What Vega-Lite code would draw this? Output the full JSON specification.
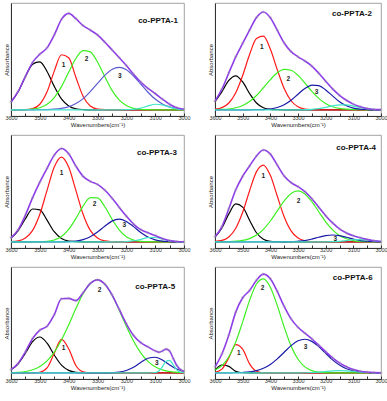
{
"$schema": "https://vega.github.io/schema/vega-lite/v6.json",
"padding": {"left": 2, "top": 2, "right": 2, "bottom": 2},
"datasets": {"d": [
{"p":1,"w":3600,"k":0.068,"r":0,"g":0,"b1":0,"c":0,"s":0.068},
{"p":1,"w":3575,"k":0.162,"r":0,"g":0,"b1":0,"c":0,"s":0.162},
{"p":1,"w":3550,"k":0.293,"r":0.001,"g":0.002,"b1":0,"c":0,"s":0.296},
{"p":1,"w":3525,"k":0.404,"r":0.010,"g":0.006,"b1":0,"c":0,"s":0.420},
{"p":1,"w":3500,"k":0.424,"r":0.049,"g":0.018,"b1":0.001,"c":0,"s":0.492},
{"p":1,"w":3475,"k":0.339,"r":0.159,"g":0.048,"b1":0.002,"c":0,"s":0.548},
{"p":1,"w":3450,"k":0.207,"r":0.342,"g":0.108,"b1":0.005,"c":0,"s":0.662},
{"p":1,"w":3425,"k":0.096,"r":0.487,"g":0.205,"b1":0.012,"c":0,"s":0.800},
{"p":1,"w":3400,"k":0.034,"r":0.460,"g":0.332,"b1":0.027,"c":0,"s":0.853},
{"p":1,"w":3375,"k":0.009,"r":0.288,"g":0.454,"b1":0.055,"c":0,"s":0.806},
{"p":1,"w":3350,"k":0.002,"r":0.120,"g":0.524,"b1":0.099,"c":0,"s":0.745},
{"p":1,"w":3325,"k":0,"r":0.033,"g":0.512,"b1":0.161,"c":0,"s":0.706},
{"p":1,"w":3300,"k":0,"r":0.006,"g":0.423,"b1":0.233,"c":0,"s":0.662},
{"p":1,"w":3275,"k":0,"r":0.001,"g":0.295,"b1":0.304,"c":0,"s":0.600},
{"p":1,"w":3250,"k":0,"r":0,"g":0.174,"b1":0.357,"c":0,"s":0.531},
{"p":1,"w":3225,"k":0,"r":0,"g":0.087,"b1":0.375,"c":0,"s":0.462},
{"p":1,"w":3200,"k":0,"r":0,"g":0.037,"b1":0.354,"c":0.001,"s":0.392},
{"p":1,"w":3175,"k":0,"r":0,"g":0.013,"b1":0.299,"c":0.003,"s":0.315},
{"p":1,"w":3150,"k":0,"r":0,"g":0.004,"b1":0.228,"c":0.014,"s":0.246},
{"p":1,"w":3125,"k":0,"r":0,"g":0.001,"b1":0.155,"c":0.034,"s":0.190},
{"p":1,"w":3100,"k":0,"r":0,"g":0,"b1":0.095,"c":0.049,"s":0.144},
{"p":1,"w":3075,"k":0,"r":0,"g":0,"b1":0.052,"c":0.043,"s":0.095},
{"p":1,"w":3050,"k":0,"r":0,"g":0,"b1":0.026,"c":0.023,"s":0.049},
{"p":1,"w":3025,"k":0,"r":0,"g":0,"b1":0.011,"c":0.007,"s":0.018},
{"p":1,"w":3000,"k":0,"r":0,"g":0,"b1":0.004,"c":0.001,"s":0.005},
{"p":2,"w":3600,"k":0.071,"r":0.005,"g":0.001,"b":0,"c":0,"s":0.077},
{"p":2,"w":3575,"k":0.161,"r":0.019,"g":0.003,"b":0,"c":0,"s":0.183},
{"p":2,"w":3550,"k":0.260,"r":0.060,"g":0.007,"b":0,"c":0,"s":0.327},
{"p":2,"w":3525,"k":0.300,"r":0.151,"g":0.018,"b":0,"c":0,"s":0.469},
{"p":2,"w":3500,"k":0.246,"r":0.304,"g":0.038,"b":0,"c":0,"s":0.588},
{"p":2,"w":3475,"k":0.144,"r":0.489,"g":0.073,"b":0,"c":0,"s":0.706},
{"p":2,"w":3450,"k":0.060,"r":0.630,"g":0.126,"b":0.001,"c":0,"s":0.817},
{"p":2,"w":3425,"k":0.018,"r":0.651,"g":0.195,"b":0.002,"c":0,"s":0.866},
{"p":2,"w":3400,"k":0.004,"r":0.537,"g":0.267,"b":0.007,"c":0,"s":0.815},
{"p":2,"w":3375,"k":0.001,"r":0.355,"g":0.328,"b":0.020,"c":0,"s":0.704},
{"p":2,"w":3350,"k":0,"r":0.188,"g":0.358,"b":0.045,"c":0,"s":0.591},
{"p":2,"w":3325,"k":0,"r":0.080,"g":0.350,"b":0.085,"c":0,"s":0.515},
{"p":2,"w":3300,"k":0,"r":0.027,"g":0.304,"b":0.138,"c":0,"s":0.469},
{"p":2,"w":3275,"k":0,"r":0.007,"g":0.236,"b":0.188,"c":0.001,"s":0.432},
{"p":2,"w":3250,"k":0,"r":0.002,"g":0.163,"b":0.218,"c":0.004,"s":0.387},
{"p":2,"w":3225,"k":0,"r":0,"g":0.101,"b":0.213,"c":0.010,"s":0.324},
{"p":2,"w":3200,"k":0,"r":0,"g":0.055,"b":0.176,"c":0.021,"s":0.252},
{"p":2,"w":3175,"k":0,"r":0,"g":0.027,"b":0.123,"c":0.035,"s":0.185},
{"p":2,"w":3150,"k":0,"r":0,"g":0.012,"b":0.072,"c":0.044,"s":0.128},
{"p":2,"w":3125,"k":0,"r":0,"g":0.005,"b":0.036,"c":0.043,"s":0.084},
{"p":2,"w":3100,"k":0,"r":0,"g":0.002,"b":0.015,"c":0.033,"s":0.050},
{"p":2,"w":3075,"k":0,"r":0,"g":0.001,"b":0.006,"c":0.020,"s":0.027},
{"p":2,"w":3050,"k":0,"r":0,"g":0,"b":0.002,"c":0.009,"s":0.011},
{"p":2,"w":3025,"k":0,"r":0,"g":0,"b":0,"c":0.003,"s":0.003},
{"p":2,"w":3000,"k":0,"r":0,"g":0,"b":0,"c":0.001,"s":0.001},
{"p":3,"w":3600,"k":0.033,"r":0.002,"g":0,"b":0,"c":0,"s":0.035},
{"p":3,"w":3575,"k":0.099,"r":0.008,"g":0,"b":0,"c":0,"s":0.107},
{"p":3,"w":3550,"k":0.204,"r":0.033,"g":0,"b":0,"c":0,"s":0.237},
{"p":3,"w":3525,"k":0.290,"r":0.101,"g":0,"b":0,"c":0,"s":0.391},
{"p":3,"w":3500,"k":0.283,"r":0.244,"g":0.001,"b":0,"c":0,"s":0.528},
{"p":3,"w":3475,"k":0.191,"r":0.455,"g":0.004,"b":0,"c":0,"s":0.650},
{"p":3,"w":3450,"k":0.089,"r":0.662,"g":0.016,"b":0,"c":0,"s":0.767},
{"p":3,"w":3425,"k":0.028,"r":0.750,"g":0.047,"b":0,"c":0,"s":0.825},
{"p":3,"w":3400,"k":0.006,"r":0.662,"g":0.109,"b":0.002,"c":0,"s":0.779},
{"p":3,"w":3375,"k":0.001,"r":0.455,"g":0.207,"b":0.007,"c":0,"s":0.670},
{"p":3,"w":3350,"k":0,"r":0.244,"g":0.316,"b":0.019,"c":0,"s":0.579},
{"p":3,"w":3325,"k":0,"r":0.101,"g":0.390,"b":0.044,"c":0,"s":0.535},
{"p":3,"w":3300,"k":0,"r":0.033,"g":0.389,"b":0.086,"c":0,"s":0.508},
{"p":3,"w":3275,"k":0,"r":0.008,"g":0.312,"b":0.138,"c":0,"s":0.458},
{"p":3,"w":3250,"k":0,"r":0.002,"g":0.202,"b":0.183,"c":0,"s":0.387},
{"p":3,"w":3225,"k":0,"r":0,"g":0.106,"b":0.200,"c":0,"s":0.306},
{"p":3,"w":3200,"k":0,"r":0,"g":0.045,"b":0.180,"c":0.002,"s":0.227},
{"p":3,"w":3175,"k":0,"r":0,"g":0.015,"b":0.134,"c":0.008,"s":0.157},
{"p":3,"w":3150,"k":0,"r":0,"g":0.004,"b":0.082,"c":0.022,"s":0.108},
{"p":3,"w":3125,"k":0,"r":0,"g":0.001,"b":0.042,"c":0.037,"s":0.080},
{"p":3,"w":3100,"k":0,"r":0,"g":0,"b":0.017,"c":0.038,"s":0.055},
{"p":3,"w":3075,"k":0,"r":0,"g":0,"b":0.006,"c":0.023,"s":0.029},
{"p":3,"w":3050,"k":0,"r":0,"g":0,"b":0.002,"c":0.008,"s":0.010},
{"p":3,"w":3025,"k":0,"r":0,"g":0,"b":0,"c":0.002,"s":0.002},
{"p":3,"w":3000,"k":0,"r":0,"g":0,"b":0,"c":0,"s":0},
{"p":4,"w":3600,"k":0.041,"r":0.003,"g":0,"b":0,"c":0,"s":0.044},
{"p":4,"w":3575,"k":0.123,"r":0.012,"g":0,"b":0,"c":0,"s":0.135},
{"p":4,"w":3550,"k":0.247,"r":0.043,"g":0.002,"b":0,"c":0,"s":0.292},
{"p":4,"w":3525,"k":0.335,"r":0.120,"g":0.005,"b":0,"c":0,"s":0.460},
{"p":4,"w":3500,"k":0.307,"r":0.261,"g":0.012,"b":0,"c":0,"s":0.580},
{"p":4,"w":3475,"k":0.191,"r":0.452,"g":0.028,"b":0,"c":0,"s":0.671},
{"p":4,"w":3450,"k":0.080,"r":0.621,"g":0.059,"b":0,"c":0,"s":0.760},
{"p":4,"w":3425,"k":0.023,"r":0.679,"g":0.110,"b":0,"c":0,"s":0.812},
{"p":4,"w":3400,"k":0.004,"r":0.588,"g":0.184,"b":0,"c":0,"s":0.776},
{"p":4,"w":3375,"k":0.001,"r":0.405,"g":0.273,"b":0,"c":0,"s":0.679},
{"p":4,"w":3350,"k":0,"r":0.221,"g":0.361,"b":0,"c":0,"s":0.582},
{"p":4,"w":3325,"k":0,"r":0.096,"g":0.427,"b":0.001,"c":0,"s":0.524},
{"p":4,"w":3300,"k":0,"r":0.033,"g":0.450,"b":0.005,"c":0,"s":0.488},
{"p":4,"w":3275,"k":0,"r":0.009,"g":0.423,"b":0.011,"c":0,"s":0.443},
{"p":4,"w":3250,"k":0,"r":0.002,"g":0.355,"b":0.024,"c":0,"s":0.381},
{"p":4,"w":3225,"k":0,"r":0,"g":0.266,"b":0.040,"c":0,"s":0.306},
{"p":4,"w":3200,"k":0,"r":0,"g":0.177,"b":0.054,"c":0,"s":0.231},
{"p":4,"w":3175,"k":0,"r":0,"g":0.106,"b":0.060,"c":0.001,"s":0.167},
{"p":4,"w":3150,"k":0,"r":0,"g":0.056,"b":0.054,"c":0.004,"s":0.114},
{"p":4,"w":3125,"k":0,"r":0,"g":0.027,"b":0.040,"c":0.011,"s":0.078},
{"p":4,"w":3100,"k":0,"r":0,"g":0.011,"b":0.024,"c":0.018,"s":0.053},
{"p":4,"w":3075,"k":0,"r":0,"g":0.004,"b":0.011,"c":0.020,"s":0.035},
{"p":4,"w":3050,"k":0,"r":0,"g":0.001,"b":0.005,"c":0.015,"s":0.021},
{"p":4,"w":3025,"k":0,"r":0,"g":0,"b":0.001,"c":0.008,"s":0.009},
{"p":4,"w":3000,"k":0,"r":0,"g":0,"b":0,"c":0.003,"s":0.003},
{"p":5,"w":3600,"k":0.027,"r":0,"g":0.002,"b":0,"c":0,"s":0.029},
{"p":5,"w":3575,"k":0.081,"r":0,"g":0.005,"b":0,"c":0,"s":0.086},
{"p":5,"w":3550,"k":0.176,"r":0,"g":0.012,"b":0,"c":0,"s":0.188},
{"p":5,"w":3525,"k":0.279,"r":0,"g":0.028,"b":0,"c":0,"s":0.307},
{"p":5,"w":3500,"k":0.320,"r":0.005,"g":0.057,"b":0,"c":0,"s":0.382},
{"p":5,"w":3475,"k":0.265,"r":0.044,"g":0.107,"b":0,"c":0,"s":0.416},
{"p":5,"w":3450,"k":0.159,"r":0.175,"g":0.185,"b":0,"c":0,"s":0.519},
{"p":5,"w":3425,"k":0.069,"r":0.298,"g":0.294,"b":0,"c":0,"s":0.661},
{"p":5,"w":3400,"k":0.022,"r":0.215,"g":0.428,"b":0,"c":0,"s":0.665},
{"p":5,"w":3375,"k":0.005,"r":0.066,"g":0.574,"b":0,"c":0,"s":0.645},
{"p":5,"w":3350,"k":0.001,"r":0.009,"g":0.706,"b":0,"c":0,"s":0.716},
{"p":5,"w":3325,"k":0,"r":0,"g":0.798,"b":0,"c":0,"s":0.798},
{"p":5,"w":3300,"k":0,"r":0,"g":0.830,"b":0,"c":0,"s":0.830},
{"p":5,"w":3275,"k":0,"r":0,"g":0.793,"b":0,"c":0,"s":0.793},
{"p":5,"w":3250,"k":0,"r":0,"g":0.696,"b":0.002,"c":0,"s":0.698},
{"p":5,"w":3225,"k":0,"r":0,"g":0.562,"b":0.006,"c":0,"s":0.568},
{"p":5,"w":3200,"k":0,"r":0,"g":0.417,"b":0.021,"c":0,"s":0.438},
{"p":5,"w":3175,"k":0,"r":0,"g":0.284,"b":0.050,"c":0,"s":0.334},
{"p":5,"w":3150,"k":0,"r":0,"g":0.178,"b":0.092,"c":0,"s":0.270},
{"p":5,"w":3125,"k":0,"r":0,"g":0.102,"b":0.130,"c":0,"s":0.232},
{"p":5,"w":3100,"k":0,"r":0,"g":0.054,"b":0.139,"c":0.003,"s":0.196},
{"p":5,"w":3087,"k":0,"r":0,"g":0.037,"b":0.130,"c":0.017,"s":0.184},
{"p":5,"w":3075,"k":0,"r":0,"g":0.027,"b":0.114,"c":0.054,"s":0.195},
{"p":5,"w":3062,"k":0,"r":0,"g":0.017,"b":0.092,"c":0.103,"s":0.212},
{"p":5,"w":3050,"k":0,"r":0,"g":0.012,"b":0.071,"c":0.112,"s":0.195},
{"p":5,"w":3037,"k":0,"r":0,"g":0.007,"b":0.050,"c":0.070,"s":0.127},
{"p":5,"w":3025,"k":0,"r":0,"g":0.005,"b":0.034,"c":0.027,"s":0.066},
{"p":5,"w":3012,"k":0,"r":0,"g":0.003,"b":0.021,"c":0.005,"s":0.029},
{"p":5,"w":3000,"k":0,"r":0,"g":0.002,"b":0.012,"c":0.001,"s":0.015},
{"p":6,"w":3600,"k":0.023,"r":0.004,"g":0.025,"b":0,"c":0,"s":0.052},
{"p":6,"w":3575,"k":0.070,"r":0.033,"g":0.065,"b":0,"c":0,"s":0.168},
{"p":6,"w":3550,"k":0.058,"r":0.135,"g":0.144,"b":0,"c":0,"s":0.337},
{"p":6,"w":3525,"k":0.013,"r":0.252,"g":0.276,"b":0.001,"c":0,"s":0.542},
{"p":6,"w":3500,"k":0.001,"r":0.211,"g":0.455,"b":0.003,"c":0,"s":0.670},
{"p":6,"w":3475,"k":0,"r":0.080,"g":0.647,"b":0.008,"c":0,"s":0.735},
{"p":6,"w":3450,"k":0,"r":0.014,"g":0.793,"b":0.020,"c":0,"s":0.827},
{"p":6,"w":3425,"k":0,"r":0.001,"g":0.839,"b":0.041,"c":0,"s":0.881},
{"p":6,"w":3400,"k":0,"r":0,"g":0.765,"b":0.075,"c":0,"s":0.840},
{"p":6,"w":3375,"k":0,"r":0,"g":0.602,"b":0.125,"c":0,"s":0.727},
{"p":6,"w":3350,"k":0,"r":0,"g":0.409,"b":0.184,"c":0,"s":0.593},
{"p":6,"w":3325,"k":0,"r":0,"g":0.239,"b":0.243,"c":0,"s":0.482},
{"p":6,"w":3300,"k":0,"r":0,"g":0.121,"b":0.286,"c":0,"s":0.407},
{"p":6,"w":3275,"k":0,"r":0,"g":0.053,"b":0.300,"c":0.001,"s":0.354},
{"p":6,"w":3250,"k":0,"r":0,"g":0.020,"b":0.281,"c":0.003,"s":0.304},
{"p":6,"w":3225,"k":0,"r":0,"g":0.006,"b":0.234,"c":0.007,"s":0.247},
{"p":6,"w":3200,"k":0,"r":0,"g":0.002,"b":0.175,"c":0.012,"s":0.189},
{"p":6,"w":3175,"k":0,"r":0,"g":0,"b":0.116,"c":0.018,"s":0.134},
{"p":6,"w":3150,"k":0,"r":0,"g":0,"b":0.069,"c":0.020,"s":0.089},
{"p":6,"w":3125,"k":0,"r":0,"g":0,"b":0.036,"c":0.018,"s":0.054},
{"p":6,"w":3100,"k":0,"r":0,"g":0,"b":0.017,"c":0.012,"s":0.029},
{"p":6,"w":3075,"k":0,"r":0,"g":0,"b":0.007,"c":0.007,"s":0.014},
{"p":6,"w":3050,"k":0,"r":0,"g":0,"b":0.003,"c":0.003,"s":0.006},
{"p":6,"w":3025,"k":0,"r":0,"g":0,"b":0.001,"c":0.001,"s":0.002},
{"p":6,"w":3000,"k":0,"r":0,"g":0,"b":0,"c":0,"s":0},
{"p":1,"kind":"n","w":3418,"v":0.40,"t":"1"},
{"p":1,"kind":"n","w":3338,"v":0.45,"t":"2"},
{"p":1,"kind":"n","w":3223,"v":0.30,"t":"3"},
{"p":1,"kind":"t","w":3090,"v":0.79,"t":"co-PPTA-1"},
{"p":2,"kind":"n","w":3431,"v":0.56,"t":"1"},
{"p":2,"kind":"n","w":3335,"v":0.27,"t":"2"},
{"p":2,"kind":"n","w":3233,"v":0.16,"t":"3"},
{"p":2,"kind":"t","w":3105,"v":0.845,"t":"co-PPTA-2"},
{"p":3,"kind":"n","w":3425,"v":0.61,"t":"1"},
{"p":3,"kind":"n","w":3310,"v":0.335,"t":"2"},
{"p":3,"kind":"n","w":3207,"v":0.147,"t":"3"},
{"p":3,"kind":"t","w":3094,"v":0.79,"t":"co-PPTA-3"},
{"p":4,"kind":"n","w":3425,"v":0.58,"t":"1"},
{"p":4,"kind":"n","w":3298,"v":0.36,"t":"2"},
{"p":4,"kind":"n","w":3165,"v":0.024,"t":"3"},
{"p":4,"kind":"t","w":3090,"v":0.83,"t":"co-PPTA-4"},
{"p":5,"kind":"n","w":3418,"v":0.22,"t":"1"},
{"p":5,"kind":"n","w":3293,"v":0.74,"t":"2"},
{"p":5,"kind":"n","w":3094,"v":0.085,"t":"3"},
{"p":5,"kind":"t","w":3100,"v":0.77,"t":"co-PPTA-5"},
{"p":6,"kind":"n","w":3514,"v":0.18,"t":"1"},
{"p":6,"kind":"n","w":3428,"v":0.76,"t":"2"},
{"p":6,"kind":"n","w":3273,"v":0.235,"t":"3"},
{"p":6,"kind":"t","w":3102,"v":0.85,"t":"co-PPTA-6"}
]},
"data": {"name": "d"},
"spacing": 6,
"vconcat": [
 {"hconcat": [
  {"width": 173, "height": 113, "transform": [{"filter": "datum.p == 1"}],
   "encoding": {
    "x": {"field": "w", "type": "quantitative", "title": "Wavenumbers(cm⁻¹)", "scale": {"domain": [3000, 3600], "reverse": true, "nice": false, "zero": false}, "axis": {"values": [3600,3550,3500,3450,3400,3350,3300,3250,3200,3150,3100,3050,3000], "labelExpr": "datum.value % 100 == 0 ? datum.label : ''", "format": "d"}},
    "y": {"field": "v", "type": "quantitative", "title": "Absorbance", "scale": {"domain": [-0.055, 0.945], "nice": false, "zero": false}}},
   "layer": [
    {"transform": [{"filter": "isValid(datum.s)"}, {"fold": ["k", "r", "g", "b", "b1", "c"], "as": ["curve", "v"]}], "mark": {"type": "line", "interpolate": "monotone", "strokeWidth": 1.2}, "encoding": {"color": {"field": "curve", "type": "nominal", "legend": null, "scale": {"domain": ["k", "r", "g", "b", "b1", "c"], "range": ["#000000", "#ff1a1a", "#3cf020", "#1a1aa8", "#5a5ad2", "#40e6c8"]}}}},
    {"transform": [{"filter": "isValid(datum.s)"}, {"fold": ["s"], "as": ["curve", "v"]}], "mark": {"type": "line", "interpolate": "monotone", "stroke": "#8e3ee6", "strokeWidth": 1.6}},
    {"transform": [{"filter": "isValid(datum.s)"}, {"fold": ["s"], "as": ["curve", "v"]}], "mark": {"type": "point", "filled": false, "size": 6, "stroke": "#a8a8a8", "strokeWidth": 0.6}},
    {"transform": [{"filter": "datum.kind == 'n'"}], "mark": {"type": "text", "fontSize": 6.5, "fontWeight": "bold", "color": "#222", "align": "center", "baseline": "middle"}, "encoding": {"text": {"field": "t"}}},
    {"transform": [{"filter": "datum.kind == 't'"}], "mark": {"type": "text", "fontSize": 8, "fontWeight": "bold", "color": "#111", "align": "center", "baseline": "middle"}, "encoding": {"text": {"field": "t"}}}
   ]},
  {"width": 166, "height": 113, "transform": [{"filter": "datum.p == 2"}],
   "encoding": {
    "x": {"field": "w", "type": "quantitative", "title": "Wavenumbers(cm⁻¹)", "scale": {"domain": [3000, 3600], "reverse": true, "nice": false, "zero": false}, "axis": {"values": [3600,3550,3500,3450,3400,3350,3300,3250,3200,3150,3100,3050,3000], "labelExpr": "datum.value % 100 == 0 ? datum.label : ''", "format": "d"}},
    "y": {"field": "v", "type": "quantitative", "title": "Absorbance", "scale": {"domain": [-0.055, 0.945], "nice": false, "zero": false}}},
   "layer": [
    {"transform": [{"filter": "isValid(datum.s)"}, {"fold": ["k", "r", "g", "b", "b1", "c"], "as": ["curve", "v"]}], "mark": {"type": "line", "interpolate": "monotone", "strokeWidth": 1.2}, "encoding": {"color": {"field": "curve", "type": "nominal", "legend": null, "scale": {"domain": ["k", "r", "g", "b", "b1", "c"], "range": ["#000000", "#ff1a1a", "#3cf020", "#1a1aa8", "#5a5ad2", "#40e6c8"]}}}},
    {"transform": [{"filter": "isValid(datum.s)"}, {"fold": ["s"], "as": ["curve", "v"]}], "mark": {"type": "line", "interpolate": "monotone", "stroke": "#8e3ee6", "strokeWidth": 1.6}},
    {"transform": [{"filter": "isValid(datum.s)"}, {"fold": ["s"], "as": ["curve", "v"]}], "mark": {"type": "point", "filled": false, "size": 6, "stroke": "#a8a8a8", "strokeWidth": 0.6}},
    {"transform": [{"filter": "datum.kind == 'n'"}], "mark": {"type": "text", "fontSize": 6.5, "fontWeight": "bold", "color": "#222", "align": "center", "baseline": "middle"}, "encoding": {"text": {"field": "t"}}},
    {"transform": [{"filter": "datum.kind == 't'"}], "mark": {"type": "text", "fontSize": 8, "fontWeight": "bold", "color": "#111", "align": "center", "baseline": "middle"}, "encoding": {"text": {"field": "t"}}}
   ]}
 ], "spacing": 31, "bounds": "flush"},
 {"hconcat": [
  {"width": 173, "height": 113, "transform": [{"filter": "datum.p == 3"}],
   "encoding": {
    "x": {"field": "w", "type": "quantitative", "title": "Wavenumbers(cm⁻¹)", "scale": {"domain": [3000, 3600], "reverse": true, "nice": false, "zero": false}, "axis": {"values": [3600,3550,3500,3450,3400,3350,3300,3250,3200,3150,3100,3050,3000], "labelExpr": "datum.value % 100 == 0 ? datum.label : ''", "format": "d"}},
    "y": {"field": "v", "type": "quantitative", "title": "Absorbance", "scale": {"domain": [-0.055, 0.945], "nice": false, "zero": false}}},
   "layer": [
    {"transform": [{"filter": "isValid(datum.s)"}, {"fold": ["k", "r", "g", "b", "b1", "c"], "as": ["curve", "v"]}], "mark": {"type": "line", "interpolate": "monotone", "strokeWidth": 1.2}, "encoding": {"color": {"field": "curve", "type": "nominal", "legend": null, "scale": {"domain": ["k", "r", "g", "b", "b1", "c"], "range": ["#000000", "#ff1a1a", "#3cf020", "#1a1aa8", "#5a5ad2", "#40e6c8"]}}}},
    {"transform": [{"filter": "isValid(datum.s)"}, {"fold": ["s"], "as": ["curve", "v"]}], "mark": {"type": "line", "interpolate": "monotone", "stroke": "#8e3ee6", "strokeWidth": 1.6}},
    {"transform": [{"filter": "isValid(datum.s)"}, {"fold": ["s"], "as": ["curve", "v"]}], "mark": {"type": "point", "filled": false, "size": 6, "stroke": "#a8a8a8", "strokeWidth": 0.6}},
    {"transform": [{"filter": "datum.kind == 'n'"}], "mark": {"type": "text", "fontSize": 6.5, "fontWeight": "bold", "color": "#222", "align": "center", "baseline": "middle"}, "encoding": {"text": {"field": "t"}}},
    {"transform": [{"filter": "datum.kind == 't'"}], "mark": {"type": "text", "fontSize": 8, "fontWeight": "bold", "color": "#111", "align": "center", "baseline": "middle"}, "encoding": {"text": {"field": "t"}}}
   ]},
  {"width": 166, "height": 113, "transform": [{"filter": "datum.p == 4"}],
   "encoding": {
    "x": {"field": "w", "type": "quantitative", "title": "Wavenumbers(cm⁻¹)", "scale": {"domain": [3000, 3600], "reverse": true, "nice": false, "zero": false}, "axis": {"values": [3600,3550,3500,3450,3400,3350,3300,3250,3200,3150,3100,3050,3000], "labelExpr": "datum.value % 100 == 0 ? datum.label : ''", "format": "d"}},
    "y": {"field": "v", "type": "quantitative", "title": "Absorbance", "scale": {"domain": [-0.055, 0.945], "nice": false, "zero": false}}},
   "layer": [
    {"transform": [{"filter": "isValid(datum.s)"}, {"fold": ["k", "r", "g", "b", "b1", "c"], "as": ["curve", "v"]}], "mark": {"type": "line", "interpolate": "monotone", "strokeWidth": 1.2}, "encoding": {"color": {"field": "curve", "type": "nominal", "legend": null, "scale": {"domain": ["k", "r", "g", "b", "b1", "c"], "range": ["#000000", "#ff1a1a", "#3cf020", "#1a1aa8", "#5a5ad2", "#40e6c8"]}}}},
    {"transform": [{"filter": "isValid(datum.s)"}, {"fold": ["s"], "as": ["curve", "v"]}], "mark": {"type": "line", "interpolate": "monotone", "stroke": "#8e3ee6", "strokeWidth": 1.6}},
    {"transform": [{"filter": "isValid(datum.s)"}, {"fold": ["s"], "as": ["curve", "v"]}], "mark": {"type": "point", "filled": false, "size": 6, "stroke": "#a8a8a8", "strokeWidth": 0.6}},
    {"transform": [{"filter": "datum.kind == 'n'"}], "mark": {"type": "text", "fontSize": 6.5, "fontWeight": "bold", "color": "#222", "align": "center", "baseline": "middle"}, "encoding": {"text": {"field": "t"}}},
    {"transform": [{"filter": "datum.kind == 't'"}], "mark": {"type": "text", "fontSize": 8, "fontWeight": "bold", "color": "#111", "align": "center", "baseline": "middle"}, "encoding": {"text": {"field": "t"}}}
   ]}
 ], "spacing": 31, "bounds": "flush"},
 {"hconcat": [
  {"width": 173, "height": 112, "transform": [{"filter": "datum.p == 5"}],
   "encoding": {
    "x": {"field": "w", "type": "quantitative", "title": "Wavenumbers(cm⁻¹)", "scale": {"domain": [3000, 3600], "reverse": true, "nice": false, "zero": false}, "axis": {"values": [3600,3550,3500,3450,3400,3350,3300,3250,3200,3150,3100,3050,3000], "labelExpr": "datum.value % 100 == 0 ? datum.label : ''", "format": "d"}},
    "y": {"field": "v", "type": "quantitative", "title": "Absorbance", "scale": {"domain": [-0.055, 0.945], "nice": false, "zero": false}}},
   "layer": [
    {"transform": [{"filter": "isValid(datum.s)"}, {"fold": ["k", "r", "g", "b", "b1", "c"], "as": ["curve", "v"]}], "mark": {"type": "line", "interpolate": "monotone", "strokeWidth": 1.2}, "encoding": {"color": {"field": "curve", "type": "nominal", "legend": null, "scale": {"domain": ["k", "r", "g", "b", "b1", "c"], "range": ["#000000", "#ff1a1a", "#3cf020", "#1a1aa8", "#5a5ad2", "#40e6c8"]}}}},
    {"transform": [{"filter": "isValid(datum.s)"}, {"fold": ["s"], "as": ["curve", "v"]}], "mark": {"type": "line", "interpolate": "monotone", "stroke": "#8e3ee6", "strokeWidth": 1.6}},
    {"transform": [{"filter": "isValid(datum.s)"}, {"fold": ["s"], "as": ["curve", "v"]}], "mark": {"type": "point", "filled": false, "size": 6, "stroke": "#a8a8a8", "strokeWidth": 0.6}},
    {"transform": [{"filter": "datum.kind == 'n'"}], "mark": {"type": "text", "fontSize": 6.5, "fontWeight": "bold", "color": "#222", "align": "center", "baseline": "middle"}, "encoding": {"text": {"field": "t"}}},
    {"transform": [{"filter": "datum.kind == 't'"}], "mark": {"type": "text", "fontSize": 8, "fontWeight": "bold", "color": "#111", "align": "center", "baseline": "middle"}, "encoding": {"text": {"field": "t"}}}
   ]},
  {"width": 166, "height": 112, "transform": [{"filter": "datum.p == 6"}],
   "encoding": {
    "x": {"field": "w", "type": "quantitative", "title": "Wavenumbers(cm⁻¹)", "scale": {"domain": [3000, 3600], "reverse": true, "nice": false, "zero": false}, "axis": {"values": [3600,3550,3500,3450,3400,3350,3300,3250,3200,3150,3100,3050,3000], "labelExpr": "datum.value % 100 == 0 ? datum.label : ''", "format": "d"}},
    "y": {"field": "v", "type": "quantitative", "title": "Absorbance", "scale": {"domain": [-0.055, 0.945], "nice": false, "zero": false}}},
   "layer": [
    {"transform": [{"filter": "isValid(datum.s)"}, {"fold": ["k", "r", "g", "b", "b1", "c"], "as": ["curve", "v"]}], "mark": {"type": "line", "interpolate": "monotone", "strokeWidth": 1.2}, "encoding": {"color": {"field": "curve", "type": "nominal", "legend": null, "scale": {"domain": ["k", "r", "g", "b", "b1", "c"], "range": ["#000000", "#ff1a1a", "#3cf020", "#1a1aa8", "#5a5ad2", "#40e6c8"]}}}},
    {"transform": [{"filter": "isValid(datum.s)"}, {"fold": ["s"], "as": ["curve", "v"]}], "mark": {"type": "line", "interpolate": "monotone", "stroke": "#8e3ee6", "strokeWidth": 1.6}},
    {"transform": [{"filter": "isValid(datum.s)"}, {"fold": ["s"], "as": ["curve", "v"]}], "mark": {"type": "point", "filled": false, "size": 6, "stroke": "#a8a8a8", "strokeWidth": 0.6}},
    {"transform": [{"filter": "datum.kind == 'n'"}], "mark": {"type": "text", "fontSize": 6.5, "fontWeight": "bold", "color": "#222", "align": "center", "baseline": "middle"}, "encoding": {"text": {"field": "t"}}},
    {"transform": [{"filter": "datum.kind == 't'"}], "mark": {"type": "text", "fontSize": 8, "fontWeight": "bold", "color": "#111", "align": "center", "baseline": "middle"}, "encoding": {"text": {"field": "t"}}}
   ]}
 ], "spacing": 31, "bounds": "flush"}
],
"config": {
  "font": "Liberation Sans",
  "view": {"stroke": "#8c8c8c", "strokeWidth": 0.8},
  "axis": {"grid": false, "domainColor": "#333", "domainWidth": 1, "tickColor": "#333",
    "labelFontSize": 5.5, "labelColor": "#333", "titleFontSize": 6, "titleFontWeight": "normal", "titleColor": "#222"},
  "axisX": {"tickSize": -3, "labelPadding": 2, "titlePadding": 1, "labelFlush": false, "labelOverlap": false},
  "axisY": {"ticks": false, "labels": false, "titlePadding": 2}
}
}
